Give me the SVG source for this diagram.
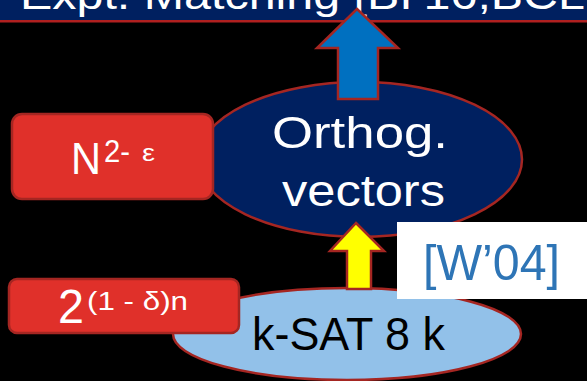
<svg xmlns="http://www.w3.org/2000/svg" width="587" height="381" viewBox="0 0 587 381">
<style>
.t{font-family:"Liberation Sans","DejaVu Sans",sans-serif}
.w{fill:#ffffff}
.box{fill:#e0302a;stroke:#a52622;stroke-width:2.5}
.edge{stroke:#a52622;stroke-width:2.5;stroke-linejoin:miter}
</style>
<rect x="0" y="0" width="587" height="381" fill="#000000"/>
<g id="title">
<rect x="0" y="0" width="587" height="21" fill="#002060"/>
<line x1="0" y1="21.3" x2="587" y2="21.3" stroke="#b02020" stroke-width="2.5"/>
<text class="t w" x="20" y="9" font-size="41" textLength="565" lengthAdjust="spacingAndGlyphs">Expt. Matching [BI’16,BCL</text>
</g>
<g id="orthog">
<ellipse cx="360" cy="159.5" rx="162" ry="77.5" fill="#002060" class="edge"/>
<text class="t w" x="272" y="148" font-size="45" textLength="176" lengthAdjust="spacingAndGlyphs">Orthog.</text>
<text class="t w" x="282" y="206" font-size="45" textLength="163" lengthAdjust="spacingAndGlyphs">vectors</text>
</g>
<g id="ksat">
<ellipse cx="347" cy="334" rx="174" ry="46" fill="#92c1e9" class="edge"/>
<text class="t" x="252" y="350" font-size="47" fill="#000000" textLength="193" lengthAdjust="spacingAndGlyphs">k-SAT 8 k</text>
</g>
<g id="connectors">
<polygon points="357,9 398,48 378,48 378,99 338,99 338,48 317,48" fill="#0070c0" class="edge"/>
<polygon points="356,223 384,251 371,251 371,289 347,289 347,251 330,251" fill="#ffff00" class="edge"/>
</g>
<g id="cost-n">
<rect x="12" y="114" width="201" height="85" rx="10" class="box"/>
<text class="t w" x="71" y="174" font-size="45" textLength="30" lengthAdjust="spacingAndGlyphs">N</text>
<text class="t w" x="104" y="162" font-size="32" textLength="26" lengthAdjust="spacingAndGlyphs">2-</text>
<text class="t w" x="142" y="161" font-size="24" textLength="13" lengthAdjust="spacingAndGlyphs">ε</text>
</g>
<g id="cost-2">
<rect x="9" y="279" width="230" height="54" rx="8" class="box"/>
<text class="t w" x="58" y="323" font-size="49" textLength="26" lengthAdjust="spacingAndGlyphs">2</text>
<text class="t w" x="87" y="310" font-size="25" textLength="101" lengthAdjust="spacingAndGlyphs">(1 - δ)n</text>
</g>
<g id="ref">
<rect x="397" y="222" width="190" height="77" fill="#ffffff"/>
<text class="t" x="423" y="280" font-size="50" fill="#2e75b6" textLength="137" lengthAdjust="spacingAndGlyphs">[W’04]</text>
</g>
</svg>
